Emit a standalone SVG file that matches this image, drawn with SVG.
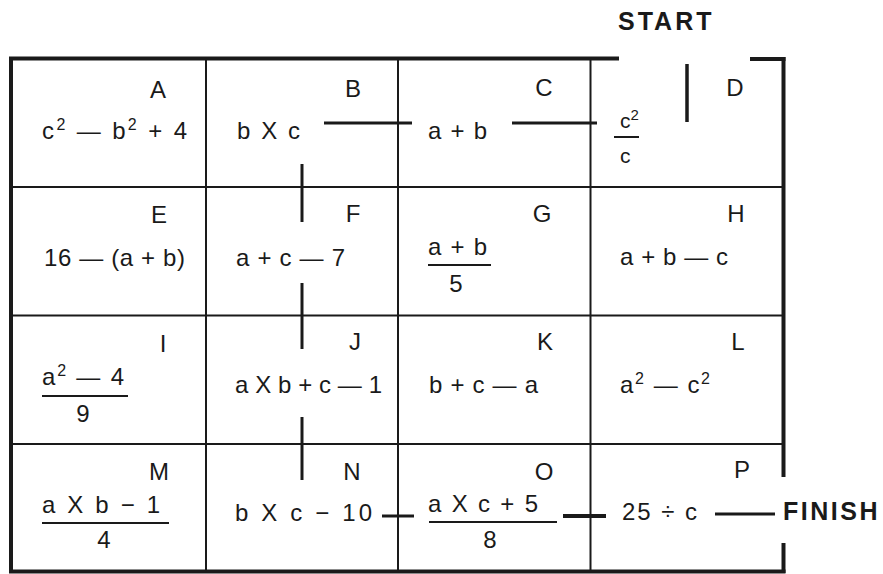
<svg xmlns="http://www.w3.org/2000/svg" width="883" height="574" viewBox="0 0 883 574">
<style>
text { font-family: "Liberation Sans", Arial, sans-serif; fill: #1a1a1a; }
.lbl { font-size: 24px; text-anchor: middle; }
.ex { font-size: 24px; }
.sup { font-size: 16px; }
.big { font-size: 25px; font-weight: bold; }
.frame { stroke: #1a1a1a; stroke-width: 4; fill: none; }
.grid { stroke: #1a1a1a; stroke-width: 2; fill: none; }
.bar { stroke: #1a1a1a; stroke-width: 2; }
.conn line { stroke: #1a1a1a; stroke-width: 3; }
</style>
<rect width="883" height="574" fill="#ffffff"/>
<g id="grid">
  <line class="grid" x1="206" y1="58" x2="206" y2="572"/>
  <line class="grid" x1="398" y1="58" x2="398" y2="572"/>
  <line class="grid" x1="590.5" y1="58" x2="590.5" y2="572"/>
  <line class="grid" x1="11" y1="187" x2="783" y2="187"/>
  <line class="grid" x1="11" y1="315.5" x2="783" y2="315.5"/>
  <line class="grid" x1="11" y1="444" x2="783" y2="444"/>
  <line class="frame" x1="9" y1="58.5" x2="619" y2="58.5"/>
  <line class="frame" x1="750" y1="59" x2="785.5" y2="59"/>
  <line class="frame" x1="11" y1="57" x2="11" y2="573"/>
  <line class="frame" x1="783.5" y1="57" x2="783.5" y2="477"/>
  <line class="frame" x1="783.5" y1="543" x2="783.5" y2="573"/>
  <line class="frame" x1="9" y1="571.5" x2="785.5" y2="571.5"/>
</g>
<g id="start"><text class="big" x="618" y="30" letter-spacing="3">START</text></g>
<g id="finish"><text class="big" x="783" y="520" letter-spacing="2.5">FINISH</text></g>

<g id="A">
  <text class="lbl" x="158" y="98">A</text>
  <text class="ex" x="42" y="139" textLength="145" lengthAdjust="spacing">c<tspan class="sup" dy="-9">2</tspan><tspan dy="9"> — b</tspan><tspan class="sup" dy="-9">2</tspan><tspan dy="9"> + 4</tspan></text>
</g>
<g id="B">
  <text class="lbl" x="353" y="97">B</text>
  <text class="ex" x="237" y="139" textLength="63" lengthAdjust="spacing">b X c</text>
</g>
<g id="C">
  <text class="lbl" x="544" y="96">C</text>
  <text class="ex" x="428" y="139" textLength="59" lengthAdjust="spacing">a + b</text>
</g>
<g id="D">
  <text class="lbl" x="735" y="96">D</text>
  <text class="ex" x="620" y="128" style="font-size:21px">c<tspan class="sup" style="font-size:15px" dy="-8">2</tspan></text>
  <line class="bar" x1="614" y1="137" x2="639" y2="137"/>
  <text class="ex" x="620" y="163" style="font-size:21px">c</text>
</g>

<g id="E">
  <text class="lbl" x="159" y="223">E</text>
  <text class="ex" x="44" y="266" textLength="141" lengthAdjust="spacing">16 — (a + b)</text>
</g>
<g id="F">
  <text class="lbl" x="353" y="222">F</text>
  <text class="ex" x="236" y="266" textLength="109" lengthAdjust="spacing">a + c — 7</text>
</g>
<g id="G">
  <text class="lbl" x="542" y="222">G</text>
  <text class="ex" x="428" y="255" textLength="59" lengthAdjust="spacing">a + b</text>
  <line class="bar" x1="428" y1="265" x2="491" y2="265"/>
  <text class="ex" x="456" y="292" text-anchor="middle">5</text>
</g>
<g id="H">
  <text class="lbl" x="736" y="222">H</text>
  <text class="ex" x="620" y="265" textLength="108" lengthAdjust="spacing">a + b — c</text>
</g>

<g id="I">
  <text class="lbl" x="163" y="352">I</text>
  <text class="ex" x="42" y="385" textLength="82" lengthAdjust="spacing">a<tspan class="sup" dy="-9">2</tspan><tspan dy="9"> — 4</tspan></text>
  <line class="bar" x1="42" y1="396" x2="128" y2="396"/>
  <text class="ex" x="83" y="422" text-anchor="middle">9</text>
</g>
<g id="J">
  <text class="lbl" x="355" y="350">J</text>
  <text class="ex" x="235" y="393" textLength="147" lengthAdjust="spacing">a X b + c — 1</text>
</g>
<g id="K">
  <text class="lbl" x="545" y="350">K</text>
  <text class="ex" x="429" y="393" textLength="109" lengthAdjust="spacing">b + c — a</text>
</g>
<g id="L">
  <text class="lbl" x="738" y="350">L</text>
  <text class="ex" x="620" y="393" textLength="90" lengthAdjust="spacing">a<tspan class="sup" dy="-9">2</tspan><tspan dy="9"> — c</tspan><tspan class="sup" dy="-9">2</tspan></text>
</g>

<g id="M">
  <text class="lbl" x="159" y="480">M</text>
  <text class="ex" x="42" y="513" textLength="118" lengthAdjust="spacing">a X b − 1</text>
  <line class="bar" x1="42" y1="523" x2="169" y2="523"/>
  <text class="ex" x="104" y="548" text-anchor="middle">4</text>
</g>
<g id="N">
  <text class="lbl" x="352" y="480">N</text>
  <text class="ex" x="235" y="521" textLength="137" lengthAdjust="spacing">b X c − 10</text>
</g>
<g id="O">
  <text class="lbl" x="544" y="480">O</text>
  <text class="ex" x="428" y="512" textLength="110" lengthAdjust="spacing">a X c + 5</text>
  <line class="bar" x1="429" y1="522" x2="557" y2="522"/>
  <text class="ex" x="490" y="548" text-anchor="middle">8</text>
</g>
<g id="P">
  <text class="lbl" x="742" y="478">P</text>
  <text class="ex" x="622" y="520" textLength="75" lengthAdjust="spacing">25 ÷ c</text>
</g>

<g id="connectors" class="conn">
  <line x1="687" y1="64" x2="687" y2="122" style="stroke-width:3.5"/>
  <line x1="512" y1="123" x2="597" y2="123"/>
  <line x1="324" y1="123" x2="412" y2="123"/>
  <line x1="302" y1="164" x2="302" y2="222"/>
  <line x1="302" y1="283" x2="302" y2="349"/>
  <line x1="302" y1="417" x2="302" y2="480"/>
  <line x1="382" y1="516" x2="414" y2="516"/>
  <line x1="563" y1="516" x2="606" y2="516" style="stroke-width:4"/>
  <line x1="715" y1="514" x2="775" y2="514"/>
</g>
</svg>
